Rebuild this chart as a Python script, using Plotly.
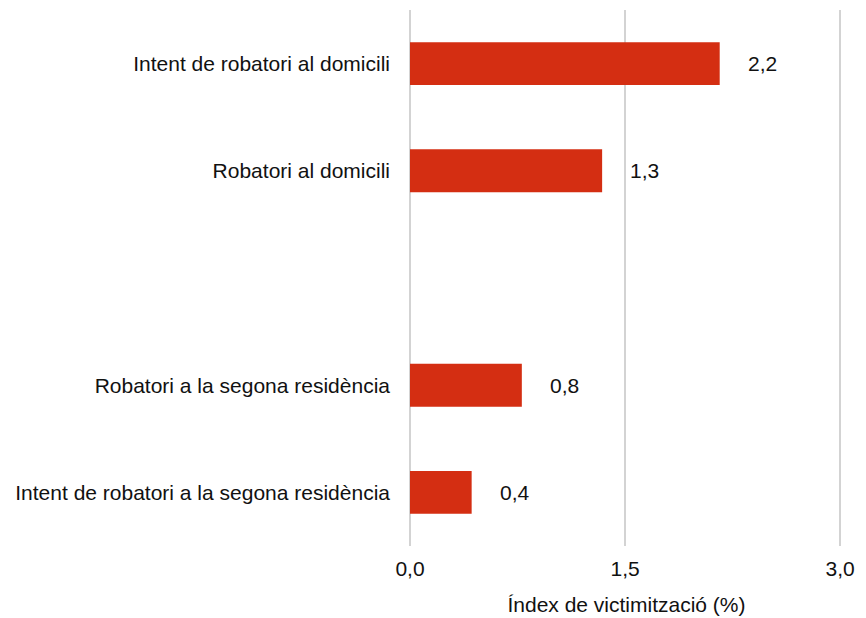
import plotly.graph_objects as go

categories = [
    "Intent de robatori al domicili",
    "Robatori al domicili",
    " ",
    "Robatori a la segona residència",
    "Intent de robatori a la segona residència",
]
values = [2.16, 1.34, None, 0.78, 0.43]
x_ticks = [0, 1.5, 3.0]
x_ticktext = ["0,0", "1,5", "3,0"]

FONT = "Liberation Sans, Arial, sans-serif"
TXT = "#111111"
RED = "#d42e12"

fig = go.Figure()
fig.add_trace(go.Bar(
    x=values, y=categories, orientation="h",
    marker=dict(color=RED, line=dict(width=0)),
    width=0.4, hoverinfo="skip",
))

for c, v in zip(categories, values):
    if v is None:
        continue
    fig.add_annotation(
        x=v, y=c, text=f"{v:.1f}".replace(".", ","),
        xanchor="left", yanchor="middle", xshift=26, showarrow=False,
        font=dict(family=FONT, size=21, color=TXT),
    )

fig.update_layout(
    width=858, height=610,
    margin=dict(l=402, r=23, t=2, b=72),
    paper_bgcolor="white", plot_bgcolor="white",
    showlegend=False,
    font=dict(family=FONT, size=21, color=TXT),
)
fig.update_xaxes(
    range=[0, 3.02], tickvals=x_ticks, ticktext=x_ticktext,
    showgrid=True, gridcolor="#d3d3d3", gridwidth=1.5,
    zeroline=True, zerolinecolor="#d3d3d3", zerolinewidth=1.5,
    showline=False, ticks="", ticklabelstandoff=8,
    title=dict(text="Índex de victimització (%)", font=dict(family=FONT, size=21, color=TXT), standoff=18),
    tickfont=dict(family=FONT, size=21, color=TXT),
)
fig.update_yaxes(
    type="category", categoryorder="array", categoryarray=categories,
    range=[4.5, -0.5], showgrid=False, zeroline=False, showline=False,
    ticks="", ticklabelstandoff=19,
    tickfont=dict(family=FONT, size=21, color=TXT),
)

fig.write_html("out.html")
